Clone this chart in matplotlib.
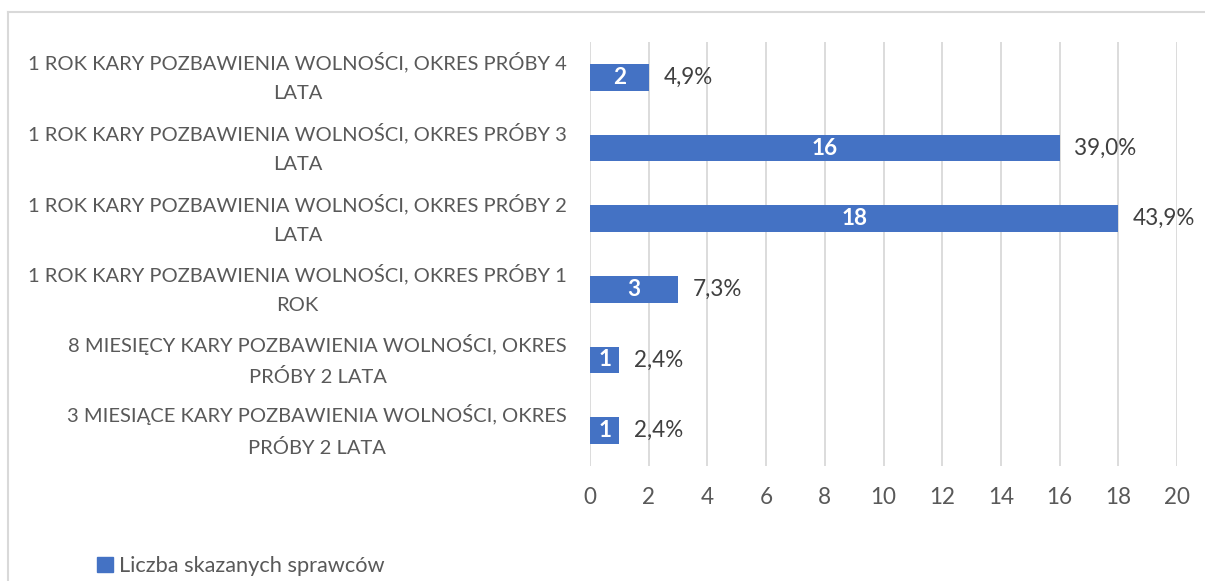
import matplotlib
matplotlib.use("Agg")
import matplotlib.pyplot as plt
from matplotlib.patches import Rectangle
from matplotlib.lines import Line2D

categories = [
    "3 MIESIĄCE KARY POZBAWIENIA WOLNOŚCI, OKRES\nPRÓBY 2 LATA",
    "8 MIESIĘCY KARY POZBAWIENIA WOLNOŚCI, OKRES\nPRÓBY 2 LATA",
    "1 ROK KARY POZBAWIENIA WOLNOŚCI, OKRES PRÓBY 1\nROK",
    "1 ROK KARY POZBAWIENIA WOLNOŚCI, OKRES PRÓBY 2\nLATA",
    "1 ROK KARY POZBAWIENIA WOLNOŚCI, OKRES PRÓBY 3\nLATA",
    "1 ROK KARY POZBAWIENIA WOLNOŚCI, OKRES PRÓBY 4\nLATA",
]
counts = [1, 1, 3, 18, 16, 2]
percent_labels = ["2,4%", "2,4%", "7,3%", "43,9%", "39,0%", "4,9%"]
xticks = [0, 2, 4, 6, 8, 10, 12, 14, 16, 18, 20]
series_name = "Liczba skazanych sprawców"

BAR = "#4472C4"
GRID = "#D9D9D9"
TXT = "#595959"
DARK = "#404040"
FONT = "Lato"

W, H = 1205, 581
fig = plt.figure(figsize=(W / 100, H / 100), dpi=100)
plt.rcParams["font.family"] = [FONT, "DejaVu Sans"]

# axes placement in pixels
x0, x1 = 590, 1177
y_top, y_bot = 42, 466
ax = fig.add_axes([x0 / W, 1 - y_bot / H, (x1 - x0) / W, (y_bot - y_top) / H])

# figure frame (chart border)
fig.add_artist(Line2D([8 / W, 1.0], [1 - 12 / H, 1 - 12 / H], transform=fig.transFigure, color=GRID, lw=1.5))
fig.add_artist(Line2D([8 / W, 8 / W], [1 - 12 / H, 0], transform=fig.transFigure, color=GRID, lw=1.5))

ypos = list(range(len(categories)))
ax.barh(ypos, counts, height=0.38, color=BAR, zorder=3)
ax.set_xlim(0, 20)
ax.set_ylim(-0.5, len(categories) - 0.5)
ax.set_xticks(xticks)
ax.xaxis.grid(True, color=GRID, lw=1.3, zorder=0)
ax.tick_params(axis="x", length=0, pad=15, labelsize=14, labelcolor=TXT)
ax.tick_params(axis="y", length=0, pad=16.5, labelsize=14, labelcolor=TXT)
for s in ax.spines.values():
    s.set_visible(False)
ax.set_yticks(ypos)
labels = ax.set_yticklabels(categories, multialignment="center", linespacing=1.9, va="center")

# fit tick label font size so that the widest label is about 537 px
fig.canvas.draw()
r = fig.canvas.get_renderer()
target = 537.0
wmax = max(l.get_window_extent(r).width for l in labels)
fs = 14 * target / wmax
for l in labels:
    l.set_fontsize(fs)
    l.set_verticalalignment("center")
fs2 = fs * 1.12
ax.tick_params(axis="x", labelsize=fs2)

for y, c, p in zip(ypos, counts, percent_labels):
    ax.text(c / 2, y, str(c), ha="center", va="center", color="white", fontsize=fs2, fontweight="bold", zorder=4)
    ax.text(c + 0.5, y, p, ha="left", va="center", color=DARK, fontsize=fs2, zorder=4)

handle = Rectangle((0, 0), 1, 1, color=BAR)
fig.legend([handle], [series_name], loc="center left", bbox_to_anchor=(97 / W, 1 - 566 / H),
           frameon=False, fontsize=fs * 1.08, labelcolor=TXT, handlelength=0.72, handleheight=0.72,
           handletextpad=0.3, borderpad=0, borderaxespad=0)

fig.savefig("out.png", dpi=100)
